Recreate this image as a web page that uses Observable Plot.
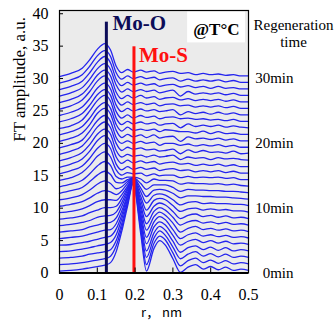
<!DOCTYPE html>
<html><head><meta charset="utf-8">
<script src="https://cdn.jsdelivr.net/npm/d3@7"></script>
<script src="https://cdn.jsdelivr.net/npm/@observablehq/plot@0.6"></script>
<style>body{margin:0;background:#fff}</style>
</head><body><div id="chart"></div>
<script>
// r grid (nm)
const r = [0,0.03,0.06,0.08,0.1,0.12,0.135,0.15,0.165,0.18,0.195,0.215,0.23,0.25,0.265,0.28,0.3,0.32,0.34,0.36,0.38,0.4,0.42,0.44,0.46,0.48,0.5];
// regeneration time (min) and vertical offset of each curve (a.u.)
const minutes = [0,1,2,3,4,5,6,7,8,9,10,11,12,13,14,15,16,17,18,19,20,21,22,23,24,25,26,27,28,29,30];
const offsets = [0,1,2,3,4,5,6,7,8,9,10,11,12,13,14,15,16,17,18,19,20,21,22,23,24,25,26,27,28,29,30];
// FT amplitude of each curve (before offset), one row per minute
const amplitude = [
[0.3,0.4,0.6,0.8,1.0,1.2,1.6,3.3,6.5,10.3,13.8,6.0,0.3,3.8,5.0,4.3,2.2,0.1,0.9,1.3,0.6,1.0,0.5,0.9,0.4,0.6,0.4],
[0.3,0.4,0.6,0.8,1.0,1.2,1.6,3.2,6.1,9.7,12.9,5.7,0.3,3.6,4.7,4.1,2.1,0.1,0.9,1.3,0.6,1.0,0.5,0.9,0.4,0.6,0.4],
[0.3,0.4,0.6,0.9,1.1,1.3,1.6,3.0,5.7,9.0,12.0,5.3,0.4,3.4,4.5,3.8,2.0,0.2,0.9,1.3,0.6,1.0,0.5,0.9,0.4,0.6,0.4],
[0.3,0.4,0.7,0.9,1.2,1.4,1.7,2.9,5.4,8.4,11.1,5.0,0.4,3.2,4.2,3.6,1.9,0.2,0.9,1.2,0.6,1.0,0.5,0.9,0.4,0.6,0.4],
[0.3,0.4,0.7,0.9,1.2,1.5,1.7,2.8,5.0,7.8,10.2,4.6,0.5,3.1,3.9,3.4,1.8,0.3,0.9,1.2,0.7,1.0,0.6,0.9,0.5,0.6,0.4],
[0.3,0.5,0.7,1.0,1.3,1.6,1.7,2.6,4.6,7.0,9.3,4.2,0.5,2.9,3.7,3.2,1.7,0.3,0.9,1.2,0.7,0.9,0.6,0.8,0.5,0.6,0.4],
[0.3,0.5,0.7,1.1,1.4,1.7,1.8,2.5,4.3,6.4,8.4,3.9,0.6,2.7,3.4,2.9,1.7,0.3,0.9,1.2,0.7,0.9,0.6,0.8,0.5,0.6,0.4],
[0.3,0.5,0.8,1.1,1.6,1.8,1.9,2.4,3.9,5.8,7.5,3.5,0.6,2.5,3.1,2.7,1.6,0.4,0.9,1.1,0.7,0.9,0.6,0.8,0.5,0.6,0.4],
[0.3,0.5,0.8,1.3,1.7,2.1,2.1,2.3,3.5,5.1,6.6,3.2,0.7,2.3,2.8,2.5,1.5,0.4,0.9,1.1,0.7,0.9,0.6,0.8,0.5,0.6,0.4],
[0.3,0.5,0.9,1.4,2.0,2.3,2.3,2.2,3.1,4.4,5.6,2.8,0.7,2.2,2.5,2.3,1.4,0.5,0.9,1.0,0.7,0.9,0.7,0.8,0.6,0.6,0.4],
[0.3,0.6,1.0,1.6,2.3,2.7,2.5,2.1,2.7,3.8,4.7,2.5,0.8,2.0,2.2,2.0,1.3,0.5,0.9,1.0,0.7,0.8,0.7,0.7,0.6,0.6,0.4],
[0.3,0.6,1.1,1.8,2.7,3.2,2.8,2.0,2.3,3.1,3.7,2.1,0.8,1.8,1.9,1.8,1.3,0.6,0.9,0.9,0.8,0.8,0.7,0.7,0.6,0.5,0.4],
[0.3,0.7,1.2,2.1,3.1,3.7,3.2,2.0,1.9,2.4,2.7,1.8,0.9,1.6,1.6,1.6,1.2,0.6,0.9,0.8,0.8,0.7,0.7,0.6,0.6,0.5,0.4],
[0.3,0.7,1.3,2.3,3.5,4.2,3.6,1.9,1.5,1.8,1.8,1.5,0.9,1.5,1.3,1.3,1.2,0.7,0.9,0.8,0.8,0.7,0.8,0.6,0.7,0.5,0.4],
[0.3,0.7,1.5,2.6,4.0,4.7,3.9,1.9,1.1,1.5,1.3,1.4,1.0,1.3,1.0,1.1,1.1,0.7,0.9,0.7,0.8,0.7,0.8,0.6,0.7,0.4,0.4],
[0.3,0.8,1.5,2.7,4.2,5.0,4.2,1.8,0.9,1.4,1.0,1.3,1.0,1.2,0.8,1.0,1.1,0.8,0.9,0.6,0.8,0.6,0.8,0.5,0.7,0.4,0.4],
[0.3,0.8,1.6,2.8,4.4,5.2,4.3,1.9,0.9,1.4,1.0,1.3,1.0,1.2,0.8,1.0,1.1,0.8,0.9,0.6,0.8,0.6,0.8,0.5,0.7,0.4,0.4],
[0.3,0.8,1.6,2.8,4.4,5.2,4.4,1.9,0.9,1.3,1.0,1.2,0.9,1.2,0.9,1.0,1.2,0.5,0.9,0.7,0.8,0.5,0.8,0.6,0.7,0.5,0.4],
[0.3,0.8,1.6,2.9,4.5,5.3,4.4,2.0,0.9,1.4,1.1,1.3,1.0,1.1,0.8,0.9,1.1,0.4,1.0,0.6,0.9,0.6,0.7,0.5,0.8,0.4,0.5],
[0.3,0.8,1.5,2.9,4.5,5.3,4.4,1.9,1.0,1.4,1.0,1.3,1.0,1.2,0.7,1.0,1.0,0.7,0.9,0.6,0.8,0.6,0.8,0.5,0.7,0.4,0.4],
[0.3,0.8,1.6,2.9,4.6,5.4,4.5,2.0,0.9,1.4,1.0,1.3,0.9,1.3,0.8,1.0,1.1,0.3,1.0,0.7,0.8,0.6,0.8,0.5,0.7,0.4,0.4],
[0.3,0.8,1.6,2.9,4.5,5.3,4.4,1.9,0.9,1.5,1.0,1.2,1.0,1.2,0.8,1.1,1.0,0.8,0.8,0.6,0.9,0.5,0.8,0.5,0.6,0.4,0.4],
[0.3,0.7,1.6,3.0,4.6,5.4,4.5,1.9,0.9,1.4,1.0,1.3,1.0,1.2,0.8,1.0,1.1,0.4,1.0,0.6,0.8,0.6,0.8,0.5,0.7,0.5,0.4],
[0.3,0.8,1.6,2.9,4.5,5.3,4.4,1.9,0.9,1.4,0.9,1.3,1.0,1.2,0.8,1.0,1.1,0.8,0.9,0.7,0.8,0.6,0.7,0.5,0.7,0.4,0.4],
[0.3,0.8,1.6,2.9,4.5,5.3,4.4,1.9,0.9,1.4,1.0,1.3,1.0,1.2,0.9,1.0,1.2,0.4,0.9,0.6,0.8,0.5,0.8,0.5,0.7,0.4,0.4],
[0.3,0.8,1.7,3.0,4.6,5.4,4.4,1.9,0.9,1.4,1.0,1.3,1.0,1.2,0.8,1.0,1.1,0.8,0.9,0.6,0.8,0.6,0.8,0.5,0.7,0.4,0.4],
[0.3,0.8,1.6,2.9,4.5,5.3,4.4,1.9,0.9,1.4,1.0,1.4,1.0,1.2,0.8,1.0,1.1,0.7,0.9,0.6,0.8,0.6,0.8,0.5,0.7,0.4,0.4],
[0.3,0.8,1.6,2.9,4.5,5.3,4.4,2.0,0.9,1.4,1.0,1.3,1.0,1.2,0.8,1.0,1.2,0.3,1.0,0.6,0.8,0.6,0.8,0.5,0.7,0.4,0.4],
[0.3,0.8,1.6,2.9,4.5,5.4,4.4,1.9,0.9,1.4,1.0,1.3,1.0,1.2,0.8,1.0,1.1,0.7,0.9,0.6,0.8,0.5,0.8,0.5,0.6,0.4,0.4],
[0.3,0.8,1.6,2.9,4.5,5.3,4.4,1.9,0.9,1.4,1.0,1.3,1.0,1.2,0.8,1.0,1.1,0.6,0.9,0.6,0.8,0.6,0.8,0.5,0.7,0.4,0.4],
[0.3,0.8,1.6,2.9,4.5,5.4,4.4,1.9,0.9,1.4,1.0,1.3,1.0,1.2,0.8,1.0,1.1,0.8,0.9,0.6,0.8,0.6,0.7,0.5,0.6,0.4,0.4]
];
const xTicks = [0, 0.1, 0.2, 0.3, 0.4, 0.5];
const yTicks = [0, 5, 10, 15, 20, 25, 30, 35, 40];
const timeLabels = ["0min", "10min", "20min", "30min"];
const timeLabelValues = [0, 10, 20, 30];
const headingLines = ["Regeneration", "time"];
const headingValues = [38.2, 35.6];
// reference lines for the Mo-O and Mo-S shells
const moO = {r: 0.124, top: 38.7, label: "Mo-O", labelR: 0.14, labelY: 38.6, color: "#0c0c58"};
const moS = {r: 0.197, top: 34.9, label: "Mo-S", labelR: 0.21, labelY: 33.6, color: "#ff1010"};
const tempLabel = {text: "@T°C", r: 0.415, y: 37.5};
const tempBox = {r1: 0.339, r2: 0.492, y1: 35.5, y2: 40.3};

const rows = [];
amplitude.forEach((a, i) => a.forEach((v, k) => rows.push({time: minutes[i], r: r[k], y: v + offsets[i]})));

const chart = Plot.plot({
  width: 335, height: 325,
  marginLeft: 59, marginRight: 87, marginTop: 10, marginBottom: 52.5,
  x: {domain: [0, 0.5]},
  y: {domain: [0, 40.5]},
  style: {fontFamily: "'Liberation Serif', 'Times New Roman', serif", fontSize: "16px", background: "white", color: "black"},
  marks: [
    Plot.frame({fill: "#ebebeb", stroke: null}),
    Plot.line(rows, {x: "r", y: "y", z: "time", stroke: "#2424ee", strokeWidth: 1.3, curve: "monotone-x"}),
    Plot.ruleX([moO], {x: "r", y1: 0, y2: "top", stroke: moO.color, strokeWidth: 3}),
    Plot.ruleX([moS], {x: "r", y1: 0, y2: "top", stroke: moS.color, strokeWidth: 3}),
    Plot.rect([tempBox], {x1: "r1", x2: "r2", y1: "y1", y2: "y2", fill: "white"}),
    Plot.text([tempLabel], {x: "r", y: "y", text: "text", fontWeight: "bold", fontSize: 17, fill: "black"}),
    Plot.text([moO], {x: "labelR", y: "labelY", text: "label", textAnchor: "start", fontWeight: "bold", fontSize: 21, fill: moO.color}),
    Plot.text([moS], {x: "labelR", y: "labelY", text: "label", textAnchor: "start", fontWeight: "bold", fontSize: 21, fill: moS.color}),
    Plot.frame({stroke: "black", strokeWidth: 1.2}),
    Plot.ruleY([0], {stroke: "black", strokeWidth: 2}),
    Plot.axisX(xTicks, {tickSize: -5, tickPadding: 21, tickFormat: d => String(d), fontSize: 16, label: null}),
    Plot.axisY(yTicks, {tickSize: -4, tickPadding: 15, fontSize: 16, label: null}),
    Plot.text(["FT amplitude, a.u."], {frameAnchor: "left", dx: -40, rotate: -90, fontSize: 17}),
    Plot.text(["r， nm"], {x: 0.27, frameAnchor: "bottom", dy: 44, fontSize: 13, fontFamily: "'Noto Sans CJK JP', 'DejaVu Sans', sans-serif"}),
    Plot.text(timeLabelValues, {y: d => d, text: (d, i) => timeLabels[i], frameAnchor: "right", dx: 45, textAnchor: "end", fontSize: 15}),
    Plot.text(headingValues, {y: d => d, text: (d, i) => headingLines[i], frameAnchor: "right", dx: 45, textAnchor: "middle", fontSize: 15})
  ]
});
document.getElementById("chart").appendChild(chart);
</script>
</body></html>
